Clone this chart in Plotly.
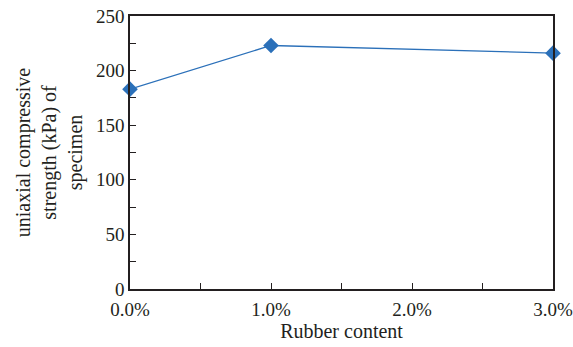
import plotly.graph_objects as go

rubber_content = [0.0, 1.0, 3.0]
strength_kpa = [183, 223, 216]
x_tick_vals = [0, 1, 2, 3]
x_tick_text = ["0.0%", "1.0%", "2.0%", "3.0%"]
y_tick_vals = [0, 50, 100, 150, 200, 250]

font_family = "Liberation Serif"

fig = go.Figure()
fig.add_trace(go.Scatter(
    x=rubber_content, y=strength_kpa, mode="lines+markers",
    line=dict(color="#2b70b9", width=1.3),
    marker=dict(symbol="diamond", size=12, color="#2b70b9"),
    cliponaxis=False, showlegend=False,
))

axis_common = dict(
    showline=True, linecolor="#231f20", linewidth=1.5, mirror=True,
    showgrid=False, zeroline=False, ticks="inside", ticklen=6,
    tickcolor="#231f20", tickwidth=1, automargin=False,
    tickfont=dict(family=font_family, size=19, color="#231f20"),
)

fig.update_xaxes(
    range=[0, 3], tickvals=x_tick_vals, ticktext=x_tick_text,
    ticklabelstandoff=2,
    minor=dict(dtick=0.5, ticks="inside", ticklen=6, tickcolor="#231f20", tickwidth=1),
    title=dict(text="Rubber content", font=dict(family=font_family, size=20, color="#231f20"), standoff=0),
    **axis_common,
)
fig.update_yaxes(
    range=[0, 250], tickvals=y_tick_vals,
    minor=dict(dtick=25, ticks="inside", ticklen=6, tickcolor="#231f20", tickwidth=1),
    title=dict(text="uniaxial compressive<br>strength (kPa) of<br>specimen",
               font=dict(family=font_family, size=20, color="#231f20"), standoff=8),
    **axis_common,
)

fig.update_layout(
    width=573, height=347,
    margin=dict(l=130, r=20, t=16, b=58),
    paper_bgcolor="white", plot_bgcolor="white",
    font=dict(family=font_family),
)

fig.write_html("out.html", config={"displayModeBar": False},
               post_script="document.body.style.margin='0';document.body.style.padding='0';")
